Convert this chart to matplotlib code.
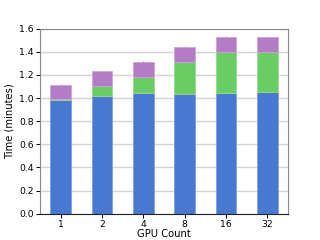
import matplotlib
matplotlib.use("Agg")
import matplotlib.pyplot as plt
import numpy as np

gpu_counts = ["1", "2", "4", "8", "16", "32"]
compute = [0.983, 1.018, 1.041, 1.036, 1.044, 1.056]
comm = [0.006, 0.085, 0.143, 0.276, 0.355, 0.346]
other = [0.125, 0.130, 0.128, 0.134, 0.131, 0.128]
other_err = [0.004, 0.004, 0.006, 0.005, 0.005, 0.005]

colors = ["#4878CF", "#6ACC65", "#B47CC7"]
edges = ["#7D9FE0", "#95DB91", "#CDA4DA"]

fig, ax = plt.subplots(figsize=(3.2, 2.4), dpi=100)
x = np.arange(len(gpu_counts))
bottom = np.zeros(len(x))
for i, vals in enumerate([compute, comm, other]):
    yerr = other_err if i == 2 else None
    ax.bar(x, vals, width=0.5, bottom=bottom, color=colors[i],
           edgecolor=edges[i], linewidth=0.6, zorder=2,
           yerr=yerr, ecolor="#999999", error_kw={"elinewidth": 0.6})
    bottom += np.array(vals)

ax.set_xlim(-0.5, 5.5)
ax.set_ylim(0, 1.6)
ax.set_xticks(x)
ax.set_xticklabels(gpu_counts)
ax.set_yticks(np.arange(0, 1.61, 0.2))
ax.set_xlabel("GPU Count", fontsize=7.2, labelpad=0)
ax.set_ylabel("Time (minutes)", fontsize=7.2, labelpad=3)
ax.yaxis.grid(True, color="#d4d4d4", linewidth=1.0, zorder=0)
ax.set_axisbelow(True)
for side in ["top", "right", "left"]:
    ax.spines[side].set_color("#888888")
ax.spines["bottom"].set_color("#222222")
ax.tick_params(labelsize=6.7, length=3, width=0.7, pad=1.5)

fig.savefig("out.png", dpi=100)
